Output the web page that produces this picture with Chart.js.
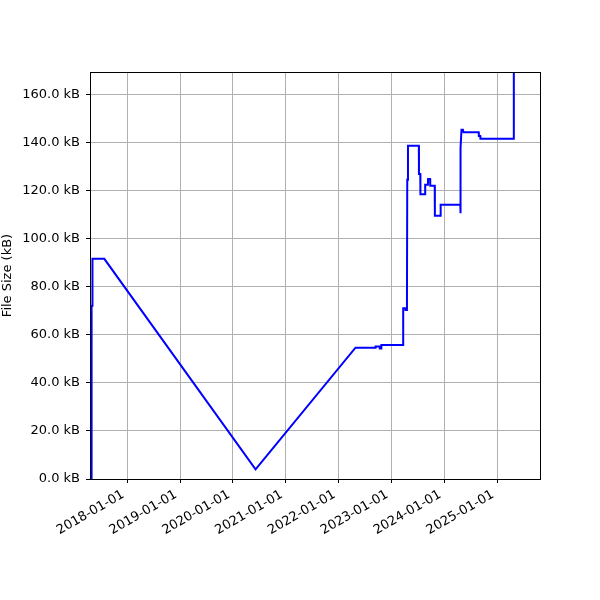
<!DOCTYPE html>
<html>
<head>
<meta charset="utf-8">
<script src="https://cdn.jsdelivr.net/npm/chart.js@4"></script>
<style>
html,body{margin:0;padding:0;background:#fff;}
#wrap{width:600px;height:600px;position:relative;}
</style>
</head>
<body>
<div id="wrap"><canvas id="c" width="600" height="600"></canvas></div>
<script>
// Commit dates and file sizes (kB)
const dates = [
  "2017-04-28","2017-04-29","2017-05-04","2017-05-05","2017-07-26",
  "2020-06-06",
  "2022-04-28","2022-09-13","2022-09-14","2022-10-12","2022-10-13","2022-10-23","2022-10-24",
  "2023-03-23","2023-03-24","2023-04-08","2023-04-09","2023-04-18","2023-04-19","2023-04-21","2023-04-26",
  "2023-07-10","2023-07-11","2023-07-20","2023-07-21","2023-08-22","2023-08-23",
  "2023-09-11","2023-09-12","2023-09-26","2023-09-27","2023-10-28","2023-10-29",
  "2023-12-07","2023-12-08","2024-04-22","2024-04-23","2024-04-24","2024-04-30",
  "2024-05-10","2024-05-14","2024-08-27","2024-08-28","2024-09-07","2024-09-08",
  "2025-04-26","2025-04-27"
];
const sizesKB = [
  0.0, 72.2, 72.2, 91.7, 91.7,
  4.0,
  54.7, 54.7, 55.2, 55.2, 54.3, 54.3, 55.8,
  55.8, 71.1, 71.1, 70.4, 70.4, 74.5, 124.6, 138.75,
  138.75, 127.0, 127.0, 118.6, 118.6, 122.5,
  122.5, 124.9, 124.9, 122.1, 122.1, 109.6,
  109.6, 114.2, 114.2, 110.7, 137.8, 145.4,
  145.4, 144.4, 144.4, 142.8, 142.8, 141.7,
  141.7, 210.0
];
const xTickLabels = ["2018-01-01","2019-01-01","2020-01-01","2021-01-01","2022-01-01","2023-01-01","2024-01-01","2025-01-01"];
const yTickValues = [0, 20, 40, 60, 80, 100, 120, 140, 160];
const xRange = ["2017-04-18", "2025-10-25"];
const yRange = [0, 169.5];

const points = dates.map((d, i) => ({ x: Date.parse(d + "T00:00:00Z"), y: sizesKB[i] }));
const FONT = "'DejaVu Sans', sans-serif";

const framePlugin = {
  id: 'frame',
  afterDraw(chart) {
    const a = chart.chartArea, ctx = chart.ctx;
    ctx.save();
    ctx.strokeStyle = '#000';
    ctx.lineWidth = 1;
    ctx.strokeRect(Math.round(a.left) + 0.5, Math.round(a.top) + 0.5,
                   Math.round(a.right - a.left), Math.round(a.bottom - a.top));
    ctx.restore();
  }
};

new Chart(document.getElementById('c'), {
  type: 'line',
  data: {
    datasets: [{
      data: points,
      borderColor: '#0000ff',
      borderWidth: 2,
      pointRadius: 0,
      tension: 0,
      fill: false
    }]
  },
  options: {
    responsive: false,
    animation: false,
    devicePixelRatio: 1,
    layout: { padding: { left: 0, right: 60, top: 72, bottom: 0 } },
    plugins: { legend: { display: false }, tooltip: { enabled: false } },
    scales: {
      x: {
        type: 'linear',
        min: Date.parse(xRange[0] + "T00:00:00Z"),
        max: Date.parse(xRange[1] + "T00:00:00Z"),
        afterBuildTicks(scale) {
          scale.ticks = xTickLabels.map(s => ({ value: Date.parse(s + "T00:00:00Z") }));
        },
        afterFit(scale) { scale.height = 121; },
        border: { display: false },
        grid: { color: '#b0b0b0', lineWidth: 1, tickLength: 4, tickColor: '#000', drawTicks: true },
        ticks: {
          autoSkip: false,
          maxRotation: 30, minRotation: 30,
          padding: 4,
          labelOffset: -4,
          color: '#000',
          font: { family: FONT, size: 13 },
          callback: (v) => new Date(v).toISOString().slice(0, 10)
        }
      },
      y: {
        type: 'linear',
        min: yRange[0], max: yRange[1],
        afterBuildTicks(scale) {
          scale.ticks = yTickValues.map(v => ({ value: v }));
        },
        afterFit(scale) { scale.width = 90; },
        border: { display: false },
        grid: { color: '#b0b0b0', lineWidth: 1, tickLength: 4, tickColor: '#000' },
        title: {
          display: true, text: 'File Size (kB)', color: '#000',
          font: { family: FONT, size: 13 }, padding: { top: 0, bottom: 0 }
        },
        ticks: {
          padding: 6,
          color: '#000',
          font: { family: FONT, size: 13 },
          callback: (v) => v.toFixed(1) + ' kB'
        }
      }
    }
  },
  plugins: [framePlugin]
});
</script>
</body>
</html>
